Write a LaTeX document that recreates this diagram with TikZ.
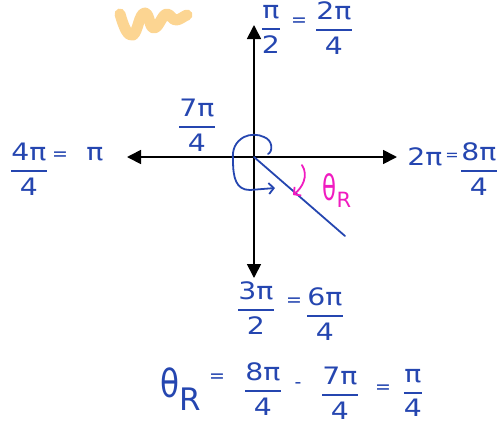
\documentclass[tikz,border=0pt]{standalone}
\usepackage{amsmath}
\usepackage{graphicx}
\usepackage{fontspec}
\setmainfont{DejaVu Sans}
\usetikzlibrary{arrows.meta}
\definecolor{inkblue}{HTML}{2546B0}
\definecolor{inkpink}{HTML}{F01CC0}
\definecolor{hilite}{HTML}{FCD592}
\newcommand{\fr}[2]{\scalebox{1.18}[1]{$\genfrac{}{}{1.9pt}{0}{\text{#1}}{\text{#2}}$}}
\newcommand{\widen}[1]{\scalebox{1.18}[1]{#1}}
\tikzset{
  lbl/.style={text=inkblue, inner sep=0pt, font=\fontsize{24}{26}\selectfont},
  sym/.style={text=inkblue, inner sep=0pt, font=\fontsize{19}{20}\selectfont},
  axis/.style={line width=1.7pt, {Triangle[length=14pt,width=14pt]}-{Triangle[length=14pt,width=14pt]}},
  ink/.style={draw=inkblue, line width=1.8pt, line cap=round, line join=round},
  barb/.style={-{Straight Barb[length=5pt,width=11pt,line width=1.8pt]}},
}
\begin{document}
\begin{tikzpicture}[x=1pt,y=-1pt]
\useasboundingbox (0,0) rectangle (503,424);
\coordinate (O) at (254,157);
\coordinate (L) at (127,157);
\coordinate (R) at (397,157);
\coordinate (T) at (254,25);
\coordinate (B) at (254,278);
\coordinate (P) at (345,236);
% highlighter squiggle
\draw[hilite, line width=11pt, line cap=round, line join=round]
  (120,14) .. controls (124,28) and (128,37) .. (133,35)
  .. controls (138,32) and (139,13) .. (145,13)
  .. controls (150,14) and (149,28) .. (154,28)
  .. controls (159,28) and (162,14) .. (167,14)
  .. controls (171,14) and (172,21) .. (177,20)
  .. controls (181,19) and (184,16) .. (187,15);
% axes
\draw[axis] (L) -- (R);
\draw[axis] (B) -- (T);
% terminal side
\draw[ink] (O) -- (P);
% 7pi/4 loop
\draw[ink, barb]
  (268,154) .. controls (273,152) and (273,140) .. (264,137)
  .. controls (258,134) and (250,134) .. (244,137)
  .. controls (235,142) and (232,150) .. (233,160)
  .. controls (233,178) and (236,190) .. (250,190) -- (275,188);
% reference angle arrow
\draw[inkpink, line width=1.8pt, line cap=round, barb]
  (302,165) .. controls (309,176) and (302,188) .. (293,195);
% labels
\node[lbl] (top1) at (271,29) {\fr{π}{2}};
\node[sym] (topeq) at (299,22) {=};
\node[lbl] (top2) at (334,28) {\fr{2π}{4}};
\node[lbl] (seven) at (197,125) {\fr{7π}{4}};
\node[lbl] (left1) at (29,169) {\fr{4π}{4}};
\node[sym] (lefteq) at (60,156) {=};
\node[lbl] (left2) at (95,154) {\widen{π}};
\node[lbl] (right1) at (425,157) {\widen{2π}};
\node[sym, font=\fontsize{16}{17}\selectfont] (righteq) at (452,157) {=};
\node[lbl] (right2) at (479,169) {\fr{8π}{4}};
\node[text=inkpink, inner sep=0pt, font=\fontsize{27}{28}\selectfont] (thr) at (337,191)
  {\scalebox{0.85}[1.3]{θ}\raisebox{-7pt}{\fontsize{21}{21}\selectfont R}};
\node[lbl] (bot1) at (256,308) {\fr{3π}{2}};
\node[sym] (boteq) at (294,302) {=};
\node[lbl] (bot2) at (325,314) {\fr{6π}{4}};
\node[text=inkblue, inner sep=0pt, font=\fontsize{31}{34}\selectfont] (eqth) at (181,389)
  {\scalebox{1}[1.25]{θ}\raisebox{-13pt}{\fontsize{31}{31}\selectfont R}};
\node[sym] (eq1) at (217,378) {=};
\node[lbl] (eq2) at (263,389) {\fr{8π}{4}};
\node[sym] (eq3) at (298,386) {-};
\node[lbl] (eq4) at (340,393) {\fr{7π}{4}};
\node[sym] (eq5) at (383,389) {=};
\node[lbl] (eq6) at (413,393) {\fr{π}{4}};
\end{tikzpicture}
\end{document}
